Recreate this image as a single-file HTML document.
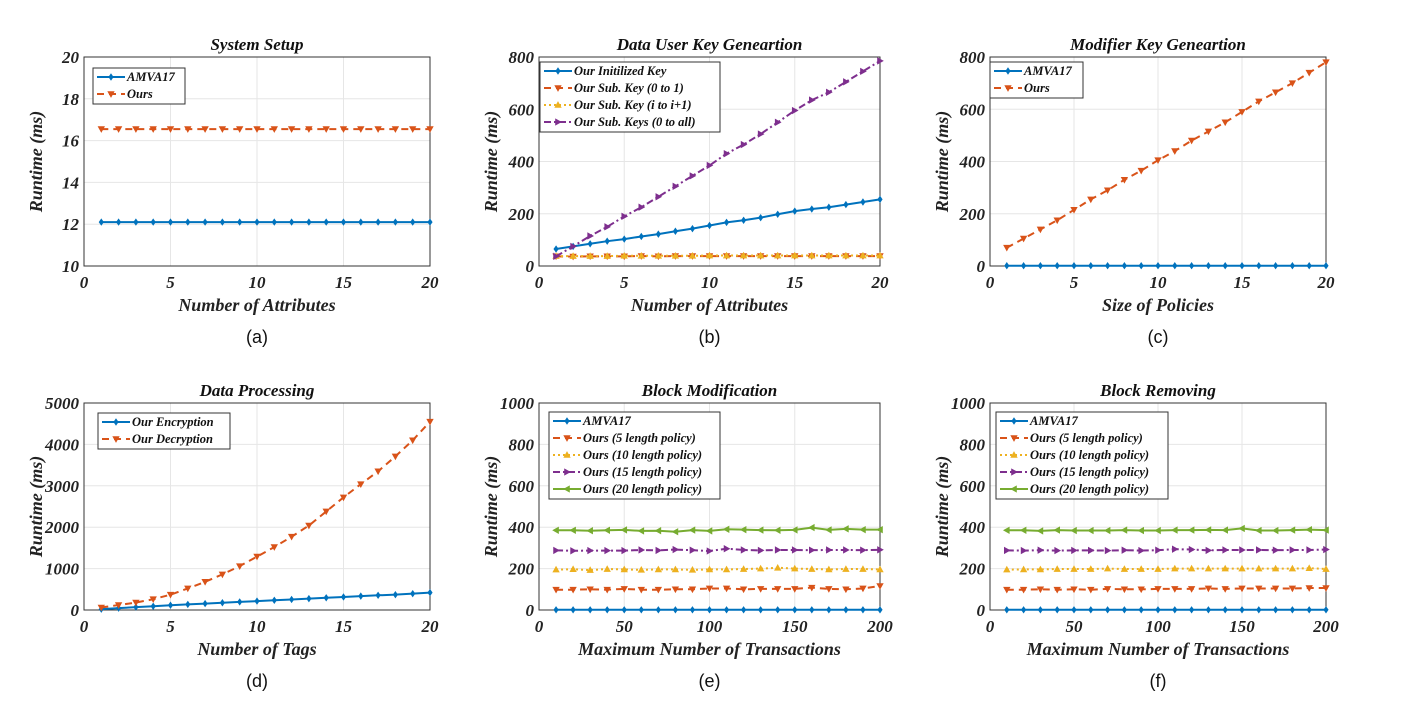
<!DOCTYPE html>
<html><head><meta charset="utf-8">
<style>
body{margin:0;background:#fff;width:1402px;height:715px;overflow:hidden}
svg text{font-family:"Liberation Serif",serif}
.t{font-weight:bold;font-style:italic}
</style></head>
<body>
<svg id="fig" width="1402" height="715" xmlns="http://www.w3.org/2000/svg"></svg>
<script>
const xs20 = [1,2,3,4,5,6,7,8,9,10,11,12,13,14,15,16,17,18,19,20];
const xs200 = [10,20,30,40,50,60,70,80,90,100,110,120,130,140,150,160,170,180,190,200];
const aAmva = [12.1,12.1,12.1,12.1,12.1,12.1,12.1,12.1,12.1,12.1,12.1,12.1,12.1,12.1,12.1,12.1,12.1,12.1,12.1,12.1];
const aOurs = [16.55,16.55,16.55,16.55,16.55,16.55,16.55,16.55,16.55,16.55,16.55,16.55,16.55,16.55,16.55,16.55,16.55,16.55,16.55,16.55];
const bInit = [65,75,85,95,103,113,122,133,143,155,167,175,185,198,210,218,225,235,245,255];
const bSub01 = [37,36,37,37,37,38,37,38,38,38,38,38,38,38,38,38,38,38,38,38];
const bSubI = [38,38,38,38,39,39,39,39,39,40,40,40,40,40,40,40,40,40,40,40];
const bSubAll = [37,75,115,150,190,225,265,305,345,385,430,465,505,550,595,635,665,705,745,785];
const cAmva = [1,1,1,1,1,1,1,1,1,1,1,1,1,1,1,1,1,1,1,1];
const cOurs = [70,105,140,175,215,255,290,330,365,405,440,480,515,550,590,630,665,700,740,780];
const dEnc = [20,45,70,90,115,135,155,175,195,215,235,255,275,295,315,335,355,370,395,420];
const dDec = [60,120,180,260,370,520,680,860,1060,1290,1520,1770,2040,2380,2720,3040,3350,3710,4100,4550];
const eAmva = [1,1,1,1,1,1,1,1,1,1,1,1,1,1,1,1,1,1,1,1];
const e5 = [98,98,100,98,102,98,98,100,100,104,104,100,102,102,102,108,102,100,104,116];
const e10 = [195,197,193,198,196,194,196,196,194,196,196,198,200,204,200,198,196,198,198,196];
const e15 = [288,286,287,287,287,290,288,292,289,285,296,290,288,290,290,289,290,290,289,291];
const e20 = [385,385,383,385,387,382,383,378,386,382,390,388,386,385,387,398,387,392,388,388];
const fAmva = [1,1,1,1,1,1,1,1,1,1,1,1,1,1,1,1,1,1,1,1];
const f5 = [98,98,100,98,100,98,102,100,100,102,102,102,104,102,104,104,104,104,106,106];
const f10 = [195,196,196,198,198,198,200,198,198,198,200,200,200,200,200,200,200,200,202,198];
const f15 = [288,287,289,287,288,288,287,289,287,289,294,292,288,290,290,290,289,290,290,292];
const f20 = [385,385,382,386,384,384,384,386,384,384,386,386,387,386,394,384,384,386,388,386];

const C={b:'#0072BD',o:'#D95319',y:'#EDB120',p:'#7E2F8E',g:'#77AC30'};
const svg=document.getElementById('fig');
const NS='http://www.w3.org/2000/svg';
function el(tag,attrs,parent){const e=document.createElementNS(NS,tag);for(const k in attrs)e.setAttribute(k,attrs[k]);(parent||svg).appendChild(e);return e;}
function txt(s,attrs,parent){const e=el('text',attrs,parent);e.textContent=s;return e;}
function marker(g,type,x,y,col){
  const s=3;let pts;
  if(type==='d'){pts=[[x,y-s],[x+s*0.7,y],[x,y+s],[x-s*0.7,y]];}
  else if(type==='v'){pts=[[x-s,y-s*0.8],[x+s,y-s*0.8],[x,y+s]];}
  else if(type==='^'){pts=[[x-s,y+s*0.8],[x+s,y+s*0.8],[x,y-s]];}
  else if(type==='>'){pts=[[x-s*0.8,y-s],[x-s*0.8,y+s],[x+s,y]];}
  else {pts=[[x+s*0.8,y-s],[x+s*0.8,y+s],[x-s,y]];}
  const m=el('polygon',{points:pts.map(p=>p.join(',')).join(' '),fill:col,stroke:col,'stroke-width':0.8},g);
  
  
}
const dashes={'-':'', '--':'7,5', ':':'2,3', '-.':'7,3,2,3'};
function panel(o){
  const g=el('g',{});
  
  
  const {L,R,T,B}=o;
  const sx=v=>L+(v-o.xmin)/(o.xmax-o.xmin)*(R-L);
  const sy=v=>B-(v-o.ymin)/(o.ymax-o.ymin)*(B-T);
  o.xt.forEach(v=>{el('line',{x1:sx(v),x2:sx(v),y1:T,y2:B,stroke:'#e6e6e6'},g);
    const t=txt(String(v),{x:sx(v),y:B+22,'text-anchor':'middle','font-size':17,class:'t',fill:'#222'},g);
    });
  o.yt.forEach(v=>{el('line',{x1:L,x2:R,y1:sy(v),y2:sy(v),stroke:'#e6e6e6'},g);
    const t=txt(String(v),{x:L-5,y:sy(v)+6,'text-anchor':'end','font-size':17,class:'t',fill:'#222'},g);
    });
  const ax=el('rect',{x:L,y:T,width:R-L,height:B-T,fill:'none',stroke:'#333','stroke-width':1},g);
  
  o.series.forEach(s=>{
    const sg=el('g',{},g);
    
    
    el('polyline',{points:s.y.map((v,i)=>sx(o.x[i])+','+sy(v)).join(' '),fill:'none',stroke:s.c,'stroke-width':2,'stroke-dasharray':dashes[s.ls]},sg);
    s.y.forEach((v,i)=>marker(sg,s.m,sx(o.x[i]),sy(v),s.c));
  });
  const tt=txt(o.title,{x:(L+R)/2,y:T-7,'text-anchor':'middle','font-size':17,class:'t',fill:'#111'},g);
  
  const xl=txt(o.xlabel,{x:(L+R)/2,y:B+45,'text-anchor':'middle','font-size':18,class:'t',fill:'#222'},g);
  
  const yx=L-42,yy=(T+B)/2;
  const yl=txt('Runtime (ms)',{x:yx,y:yy,'text-anchor':'middle','font-size':18,class:'t',fill:'#222',transform:`rotate(-90 ${yx} ${yy})`},g);
  
  const cap=txt(o.cap,{x:(L+R)/2,y:B+77,'text-anchor':'middle','font-size':18,fill:'#111',style:'font-family:"Liberation Sans",sans-serif'},g);
  
  const lg=el('g',{},g);
  
  
  const lx=o.leg[0],ly=o.leg[1],lw=o.leg[2],n=o.series.length,rh=17;
  el('rect',{x:lx,y:ly,width:lw,height:n*rh+2,fill:'#fff',stroke:'#333','stroke-width':1},lg);
  o.series.forEach((s,i)=>{
    const cy=ly+9+i*rh;
    const e=el('g',{},lg);
    
    
    el('line',{x1:lx+4,x2:lx+32,y1:cy,y2:cy,stroke:s.c,'stroke-width':2,'stroke-dasharray':dashes[s.ls]},e);
    marker(e,s.m,lx+18,cy,s.c);
    txt(s.label,{x:lx+34,y:cy+4,'font-size':12.5,class:'t',fill:'#111'},e);
  });
}
const T1=57,B1=266,T2=403,B2=610;
const c1=[84,430],c2=[539,880],c3=[990,1326];
panel({name:'panel-a-system-setup',L:c1[0],R:c1[1],T:T1,B:B1,xmin:0,xmax:20,ymin:10,ymax:20,xt:[0,5,10,15,20],yt:[10,12,14,16,18,20],x:xs20,
 title:'System Setup',xlabel:'Number of Attributes',cap:'(a)',leg:[93,68,92],
 series:[{y:aAmva,c:C.b,ls:'-',m:'d',label:'AMVA17'},{y:aOurs,c:C.o,ls:'--',m:'v',label:'Ours'}]});
panel({name:'panel-b-data-user-key',L:c2[0],R:c2[1],T:T1,B:B1,xmin:0,xmax:20,ymin:0,ymax:800,xt:[0,5,10,15,20],yt:[0,200,400,600,800],x:xs20,
 title:'Data User Key Geneartion',xlabel:'Number of Attributes',cap:'(b)',leg:[540,62,180],
 series:[{y:bInit,c:C.b,ls:'-',m:'d',label:'Our Initilized Key'},{y:bSub01,c:C.o,ls:'--',m:'v',label:'Our Sub. Key (0 to 1)'},
 {y:bSubI,c:C.y,ls:':',m:'^',label:'Our Sub. Key (i to i+1)'},{y:bSubAll,c:C.p,ls:'-.',m:'>',label:'Our Sub. Keys (0 to all)'}]});
panel({name:'panel-c-modifier-key',L:c3[0],R:c3[1],T:T1,B:B1,xmin:0,xmax:20,ymin:0,ymax:800,xt:[0,5,10,15,20],yt:[0,200,400,600,800],x:xs20,
 title:'Modifier Key Geneartion',xlabel:'Size of Policies',cap:'(c)',leg:[990,62,93],
 series:[{y:cAmva,c:C.b,ls:'-',m:'d',label:'AMVA17'},{y:cOurs,c:C.o,ls:'--',m:'v',label:'Ours'}]});
panel({name:'panel-d-data-processing',L:c1[0],R:c1[1],T:T2,B:B2,xmin:0,xmax:20,ymin:0,ymax:5000,xt:[0,5,10,15,20],yt:[0,1000,2000,3000,4000,5000],x:xs20,
 title:'Data Processing',xlabel:'Number of Tags',cap:'(d)',leg:[98,413,132],
 series:[{y:dEnc,c:C.b,ls:'-',m:'d',label:'Our Encryption'},{y:dDec,c:C.o,ls:'--',m:'v',label:'Our Decryption'}]});
const legE=[{c:C.b,ls:'-',m:'d',label:'AMVA17'},{c:C.o,ls:'--',m:'v',label:'Ours (5 length policy)'},{c:C.y,ls:':',m:'^',label:'Ours (10 length policy)'},{c:C.p,ls:'-.',m:'>',label:'Ours (15 length policy)'},{c:C.g,ls:'-',m:'<',label:'Ours (20 length policy)'}];
const eY=[eAmva,e5,e10,e15,e20], fY=[fAmva,f5,f10,f15,f20];
panel({name:'panel-e-block-modification',L:c2[0],R:c2[1],T:T2,B:B2,xmin:0,xmax:200,ymin:0,ymax:1000,xt:[0,50,100,150,200],yt:[0,200,400,600,800,1000],x:xs200,
 title:'Block Modification',xlabel:'Maximum Number of Transactions',cap:'(e)',leg:[549,412,171],
 series:legE.map((s,i)=>Object.assign({y:eY[i]},s))});
panel({name:'panel-f-block-removing',L:c3[0],R:c3[1],T:T2,B:B2,xmin:0,xmax:200,ymin:0,ymax:1000,xt:[0,50,100,150,200],yt:[0,200,400,600,800,1000],x:xs200,
 title:'Block Removing',xlabel:'Maximum Number of Transactions',cap:'(f)',leg:[996,412,172],
 series:legE.map((s,i)=>Object.assign({y:fY[i]},s))});
</script>
</body></html>
